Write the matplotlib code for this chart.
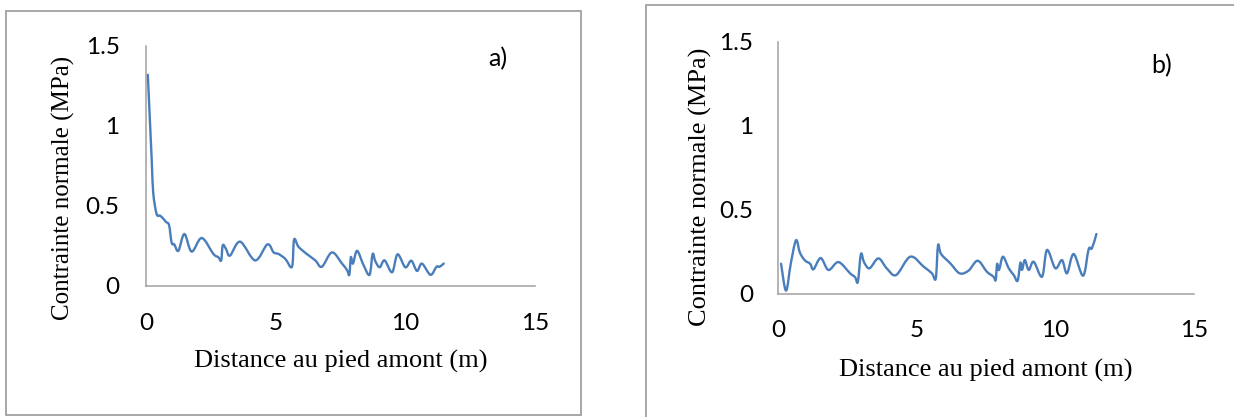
import matplotlib
matplotlib.use("Agg")
import matplotlib.pyplot as plt
from matplotlib.patches import Rectangle, PathPatch
from matplotlib.path import Path

# ---- data ----
x_a = [0.07, 0.22, 0.28, 0.41, 0.54, 0.67, 0.77, 0.89, 0.99, 1.09, 1.25, 1.48, 1.76,
       2.15, 2.60, 2.79, 2.90, 2.96, 3.09, 3.24, 3.63, 4.21, 4.68, 4.92, 5.11, 5.37,
       5.63, 5.71, 5.88, 6.20, 6.53, 6.78, 7.17, 7.56, 7.75, 7.84, 7.90, 7.98, 8.14,
       8.39, 8.62, 8.74, 8.84, 9.01, 9.20, 9.49, 9.70, 10.00, 10.23, 10.45, 10.64,
       10.97, 11.20, 11.32, 11.48]
y_a = [1.32, 0.79, 0.58, 0.45, 0.44, 0.42, 0.40, 0.38, 0.27, 0.26, 0.22, 0.325, 0.215,
       0.30, 0.20, 0.18, 0.16, 0.255, 0.23, 0.19, 0.277, 0.16, 0.26, 0.21, 0.20, 0.17,
       0.12, 0.29, 0.245, 0.20, 0.16, 0.12, 0.21, 0.14, 0.10, 0.07, 0.18, 0.14, 0.22,
       0.13, 0.07, 0.20, 0.156, 0.117, 0.16, 0.086, 0.198, 0.117, 0.158, 0.094, 0.14,
       0.07, 0.12, 0.12, 0.14]

x_b = [0.11, 0.29, 0.46, 0.65, 0.79, 0.97, 1.16, 1.28, 1.54, 1.82, 2.18, 2.60, 2.78,
       2.88, 2.99, 3.10, 3.30, 3.62, 3.92, 4.26, 4.77, 5.25, 5.55, 5.69, 5.77, 5.88,
       6.21, 6.55, 6.87, 7.20, 7.53, 7.77, 7.85, 7.90, 7.97, 8.11, 8.32, 8.50, 8.64,
       8.74, 8.80, 8.90, 9.04, 9.22, 9.52, 9.70, 10.00, 10.24, 10.42, 10.66, 11.00,
       11.20, 11.32, 11.48]
y_b = [0.18, 0.02, 0.18, 0.32, 0.246, 0.20, 0.18, 0.147, 0.214, 0.143, 0.19, 0.123,
       0.10, 0.073, 0.238, 0.19, 0.153, 0.212, 0.153, 0.113, 0.222, 0.163, 0.123, 0.093,
       0.29, 0.238, 0.183, 0.123, 0.139, 0.198, 0.133, 0.103, 0.083, 0.179, 0.143, 0.222,
       0.153, 0.113, 0.079, 0.186, 0.143, 0.202, 0.143, 0.192, 0.103, 0.262, 0.153,
       0.202, 0.123, 0.238, 0.109, 0.266, 0.272, 0.357]

x_ticks = [0, 5, 10, 15]
y_ticks = [0, 0.5, 1, 1.5]
y_ticklabels = ["0", "0.5", "1", "1.5"]
x_label = "Distance au pied amont (m)"
y_label = "Contrainte normale (MPa)"
panel_tags = ["a)", "b)"]

# ---- figure ----
W, H = 1234, 417
fig = plt.figure(figsize=(W / 100, H / 100), dpi=100)
fig.patch.set_facecolor("white")

LINE = "#4A7EBB"
AXC = "#A0A0A0"
TICKFONT = "Lato"
LABFONT = "Liberation Serif"


def px_axes(x0, x1, y0, y1):
    return fig.add_axes([x0 / W, 1 - y0 / H, (x1 - x0) / W, (y0 - y1) / H])


def smooth_path(xs, ys):
    """Excel-like smoothed line: cubic Bezier segments through the data points."""
    n = len(xs)
    verts = [(xs[0], ys[0])]
    codes = [Path.MOVETO]
    for i in range(n - 1):
        i0 = max(i - 1, 0)
        i3 = min(i + 2, n - 1)
        c1 = (xs[i] + (xs[i + 1] - xs[i0]) / 6, ys[i] + (ys[i + 1] - ys[i0]) / 6)
        c2 = (xs[i + 1] - (xs[i3] - xs[i]) / 6, ys[i + 1] - (ys[i3] - ys[i]) / 6)
        verts += [c1, c2, (xs[i + 1], ys[i + 1])]
        codes += [Path.CURVE4] * 3
    return Path(verts, codes)


# frames around each panel
fig.add_artist(Rectangle((6 / W, 1 - 415 / H), 575 / W, 404 / H, transform=fig.transFigure,
                         fill=False, edgecolor=AXC, linewidth=1.3))
fig.add_artist(Rectangle((646 / W, 1 - 430 / H), 620 / W, 424.5 / H, transform=fig.transFigure,
                         fill=False, edgecolor=AXC, linewidth=1.3))

specs = [
    dict(box=(146, 535, 286, 46), x=x_a, y=y_a, xpad=19.5, ypad=19,
         xl=(0.50, -0.315), yl=(-0.213, 0.408), yls=18, tag=(498, 59)),
    dict(box=(778, 1194, 294, 42), x=x_b, y=y_b, xpad=19, ypad=18,
         xl=(0.50, -0.302), yl=(-0.1875, 0.427), yls=19, tag=(1162, 66)),
]

for i, s in enumerate(specs):
    ax = px_axes(*s["box"])
    ax.add_patch(PathPatch(smooth_path(s["x"], s["y"]), facecolor="none", edgecolor=LINE,
                           linewidth=1.7, joinstyle="round", capstyle="round"))
    ax.set_xlim(0, 15)
    ax.set_ylim(0, 1.5)
    ax.set_xticks(x_ticks)
    ax.set_yticks(y_ticks)
    ax.set_yticklabels(y_ticklabels)
    for sp in ["top", "right"]:
        ax.spines[sp].set_visible(False)
    for sp in ["left", "bottom"]:
        ax.spines[sp].set_color(AXC)
        ax.spines[sp].set_linewidth(1.1)
    ax.tick_params(axis="x", length=0, pad=s["xpad"], labelsize=17.5)
    ax.tick_params(axis="y", length=0, pad=s["ypad"], labelsize=17.5)
    for t in ax.get_xticklabels() + ax.get_yticklabels():
        t.set_fontfamily(TICKFONT)
        t.set_color("black")
    ax.set_xlabel(x_label, fontfamily=LABFONT, fontsize=19, va="center")
    ax.xaxis.set_label_coords(*s["xl"])
    ax.set_ylabel(y_label, fontfamily=LABFONT, fontsize=s["yls"], va="center")
    ax.yaxis.set_label_coords(*s["yl"])
    ax.patch.set_alpha(0)
    fig.text(s["tag"][0] / W, 1 - s["tag"][1] / H, panel_tags[i], fontfamily=TICKFONT,
             fontsize=18, ha="center", va="center")

fig.savefig("out.png", dpi=100, facecolor="white")
